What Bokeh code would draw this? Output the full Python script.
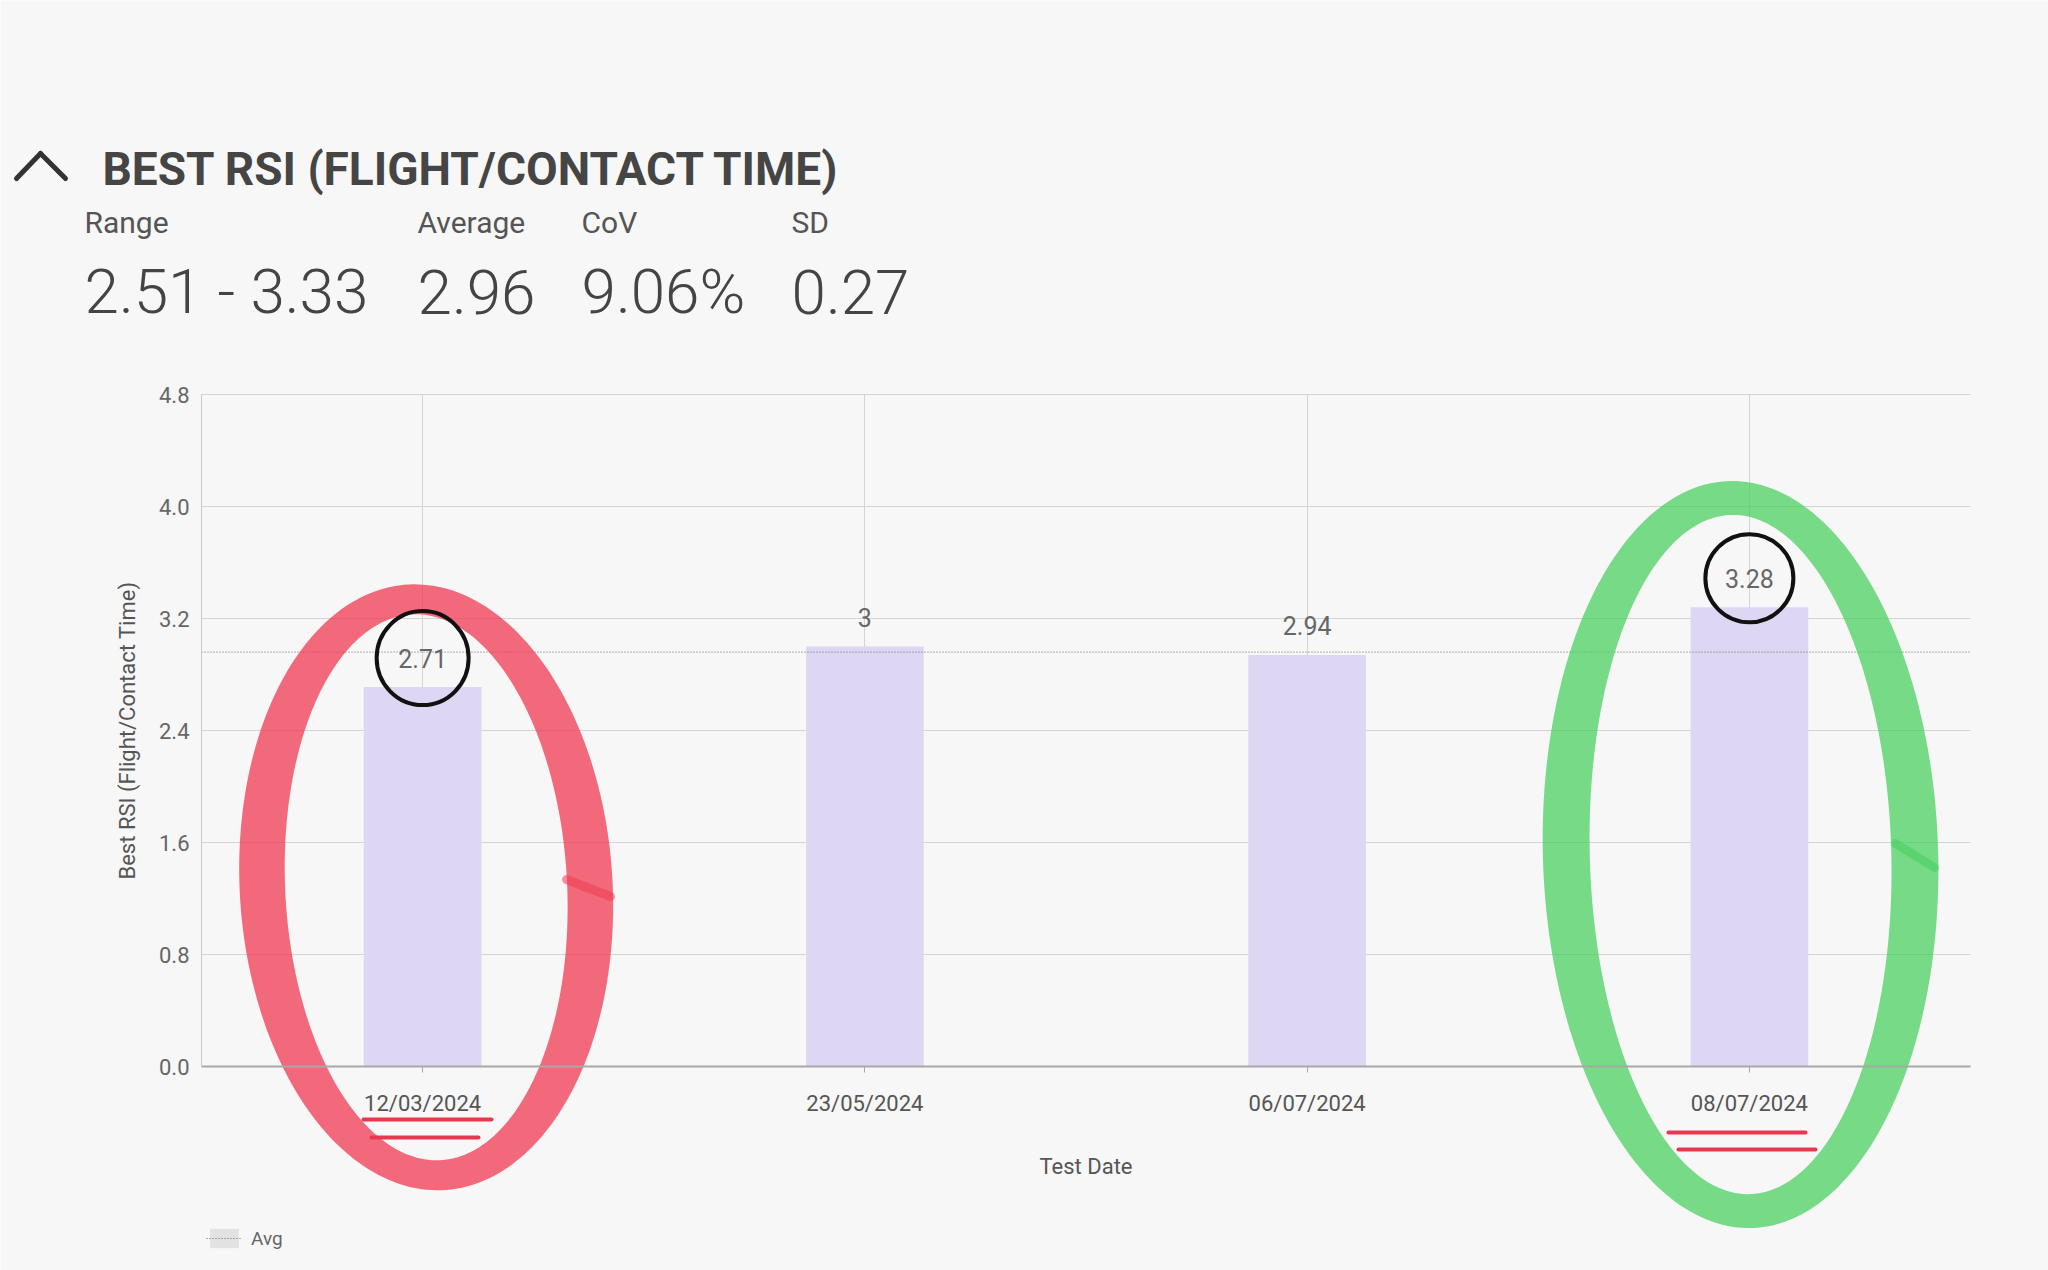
import numpy as np
from bokeh.plotting import figure
from bokeh.models import (ColumnDataSource, Range1d, FixedTicker, Legend, LegendItem,
                          Label, Arrow, NumeralTickFormatter)
from bokeh.core.properties import value
from bokeh.embed import file_html
from bokeh.resources import INLINE

# ---------------- data ----------------
dates = ["12/03/2024", "23/05/2024", "06/07/2024", "08/07/2024"]
best_rsi = [2.71, 3.0, 2.94, 3.28]
value_labels = ["2.71", "3", "2.94", "3.28"]
avg_value = 2.96
y_ticks = [0.0, 0.8, 1.6, 2.4, 3.2, 4.0, 4.8]
stat_names = ["Range", "Average", "CoV", "SD"]
stat_values = ["2.51 - 3.33", "2.96", "9.06%", "0.27"]
title_text = "BEST RSI (FLIGHT/CONTACT TIME)"
x_title = "Test Date"
y_title = "Best RSI (Flight/Contact Time)"

BG = "#f7f7f7"
GRID = "#d4d4d4"
W, H = 2048, 1270
FL, FR, FT, FB = 201, 1970, 394, 1066      # chart area edges on the canvas
x_idx = list(range(len(dates)))
x_lo, x_hi = -0.5, len(dates) - 0.5          # chart data extent
y_lo, y_hi = 0.0, 4.8
cw = (FR - FL) / (x_hi - x_lo)               # px per category
ppu = (FB - FT) / (y_hi - y_lo)              # px per value unit

p = figure(width=W, height=H,
           x_range=Range1d(x_lo - FL / cw, x_hi + (W - FR) / cw),
           y_range=Range1d(y_lo - (H - FB) / ppu, y_hi + FT / ppu),
           output_backend="svg", toolbar_location=None,
           background_fill_color=BG, border_fill_color=BG, min_border=0)
p.outline_line_color = None

# ---------------- grid ----------------
xg, yg = p.xgrid[0], p.ygrid[0]
xg.ticker = FixedTicker(ticks=x_idx)
yg.ticker = FixedTicker(ticks=y_ticks)
try:
    xg.cross_bounds = (y_lo, y_hi)
    yg.cross_bounds = (x_lo, x_hi)
    xg.grid_line_color = GRID
    yg.grid_line_color = GRID
except Exception:
    xg.grid_line_color = None
    yg.grid_line_color = None
    p.segment(x0=x_idx, x1=x_idx, y0=[y_lo] * len(x_idx), y1=[y_hi] * len(x_idx),
              line_color=GRID, line_width=1, level="underlay")
    p.segment(x0=[x_lo] * len(y_ticks), x1=[x_hi] * len(y_ticks), y0=y_ticks, y1=y_ticks,
              line_color=GRID, line_width=1, level="underlay")

# ---------------- axes ----------------
xax = p.xaxis[0]
yax = p.yaxis[0]
xax.fixed_location = y_lo
xax.bounds = (x_lo, x_hi)
xax.ticker = FixedTicker(ticks=x_idx)
xax.major_label_overrides = {i: d for i, d in zip(x_idx, dates)}
xax.minor_tick_line_color = None
xax.axis_line_color = "#a8a8a8"
xax.axis_line_width = 2
xax.major_tick_line_color = "#a8a8a8"
xax.major_tick_out = 6
xax.major_tick_in = 0
xax.major_label_standoff = 18
xax.major_label_text_font = "Roboto"
xax.major_label_text_font_size = "22px"
xax.major_label_text_color = "#555555"
xax.axis_label = x_title
xax.axis_label_text_font = "Roboto"
xax.axis_label_text_font_style = "normal"
xax.axis_label_text_font_size = "22px"
xax.axis_label_text_color = "#555555"
xax.axis_label_standoff = 35

yax.fixed_location = x_lo
yax.bounds = (y_lo, y_hi)
yax.ticker = FixedTicker(ticks=y_ticks)
yax.formatter = NumeralTickFormatter(format="0.0")
yax.axis_line_color = "#c8c8c8"
yax.major_tick_out = 0
yax.major_tick_in = 0
yax.minor_tick_line_color = None
yax.major_label_standoff = 12
yax.major_label_text_font = "Roboto"
yax.major_label_text_font_size = "22px"
yax.major_label_text_color = "#666666"
yax.axis_label = y_title
yax.axis_label_text_font = "Roboto"
yax.axis_label_text_font_style = "normal"
yax.axis_label_text_font_size = "22px"
yax.axis_label_text_color = "#555555"
yax.axis_label_standoff = 16

# ---------------- bars ----------------
src = ColumnDataSource(dict(x=x_idx, v=best_rsi, lab=value_labels))
p.vbar(x="x", top="v", width=0.266, source=src, fill_color="#ddd7f4", line_color=None)

label_gap_px = 29
p.text(x="x", y="v", text="lab", source=src, y_offset=-label_gap_px,
       text_align="center", text_baseline="middle", text_font=value("Roboto"),
       text_font_size="25px", text_color="#666666")

# average line
avg_r = p.line(x=[x_lo, x_hi], y=[avg_value, avg_value], line_color="#666666",
               line_width=1, line_dash="1 2")
# zero-size block: only used to paint the grey legend swatch
swatch_r = p.quad(left=[x_lo], right=[x_lo], bottom=[avg_value], top=[avg_value],
                  fill_color="#e2e2e2", line_color=None)
legend = Legend(items=[LegendItem(label="Avg", renderers=[swatch_r, avg_r])],
                location=(206, H - 1250), orientation="horizontal",
                background_fill_alpha=0, border_line_color=None,
                padding=0, margin=0, spacing=0, glyph_width=36, glyph_height=24,
                label_standoff=9, label_text_font="Roboto", label_text_font_size="19px",
                label_text_color="#666666")
p.add_layout(legend, "center")

# ---------------- hand-drawn highlights ----------------
lo = int(np.argmin(best_rsi))
hi = int(np.argmax(best_rsi))

def ring(cx, cy, a_out, b_out, a_in, b_in, k):
    t = np.linspace(0, 2 * np.pi, 240)
    yo = cy + b_out * np.sin(t)
    xo = cx + a_out * np.cos(t) + k * (yo - cy)
    yi = cy + b_in * np.sin(t[::-1])
    xi = cx + a_in * np.cos(t[::-1]) + k * (yi - cy)
    return list(np.concatenate([xo, xi])), list(np.concatenate([yo, yi]))

xs, ys = ring(lo + 0.008, 1.28, 0.422, 2.164, 0.319, 1.95, -0.012)
p.patch(xs, ys, fill_color="#f03a52", fill_alpha=0.75, line_color=None)
xs, ys = ring(hi - 0.02, 1.514, 0.447, 2.668, 0.341, 2.426, -0.007)
p.patch(xs, ys, fill_color="#45cf5c", fill_alpha=0.72, line_color=None)

circ_y = [best_rsi[i] + label_gap_px / ppu for i in (lo, hi)]
p.ellipse(x=[lo, hi], y=circ_y, width=[92, 88], height=[94, 88],
          width_units="screen", height_units="screen", fill_alpha=0,
          line_color="#111111", line_width=4)

def seg(x0, y0, x1, y1, color, width, alpha=1.0):
    p.add_layout(Arrow(start=None, end=None, x_start=x0, y_start=H - y0,
                       x_end=x1, y_end=H - y1, start_units="screen",
                       end_units="screen", line_color=color, line_width=width,
                       line_alpha=alpha, line_cap="round"))

# pen overlap marks on the rings
seg(566, 879, 610, 896, "#f03a52", 9, 0.55)
seg(1895, 843, 1934, 867, "#45cf5c", 9, 0.55)
# underlines
for (x0, x1, yy) in [(363, 491, 1119), (371, 478, 1137), (1668, 1805, 1132), (1678, 1815, 1149)]:
    seg(x0, yy, x1, yy, "#e8384f", 4)

# ---------------- header ----------------
seg(16, 178, 40, 153, "#333333", 5)
seg(40, 153, 65, 178, "#333333", 5)
p.add_layout(Label(x=102, y=H - 168, x_units="screen", y_units="screen",
                   text=title_text, text_font="Roboto", text_font_style="bold",
                   text_font_size="46px", text_color="#454545", text_baseline="middle"))
stat_x = [84, 417, 581, 791]
for sx, name, val in zip(stat_x, stat_names, stat_values):
    p.add_layout(Label(x=sx, y=H - 222, x_units="screen", y_units="screen",
                       text=name, text_font="Roboto", text_font_size="30px",
                       text_color="#555555", text_baseline="middle"))
    p.add_layout(Label(x=sx, y=H - 291, x_units="screen", y_units="screen",
                       text=val, text_font="Roboto Light", text_font_size="62px",
                       text_color="#444444", text_baseline="middle"))

open("out.html", "w").write(file_html(p, INLINE))
